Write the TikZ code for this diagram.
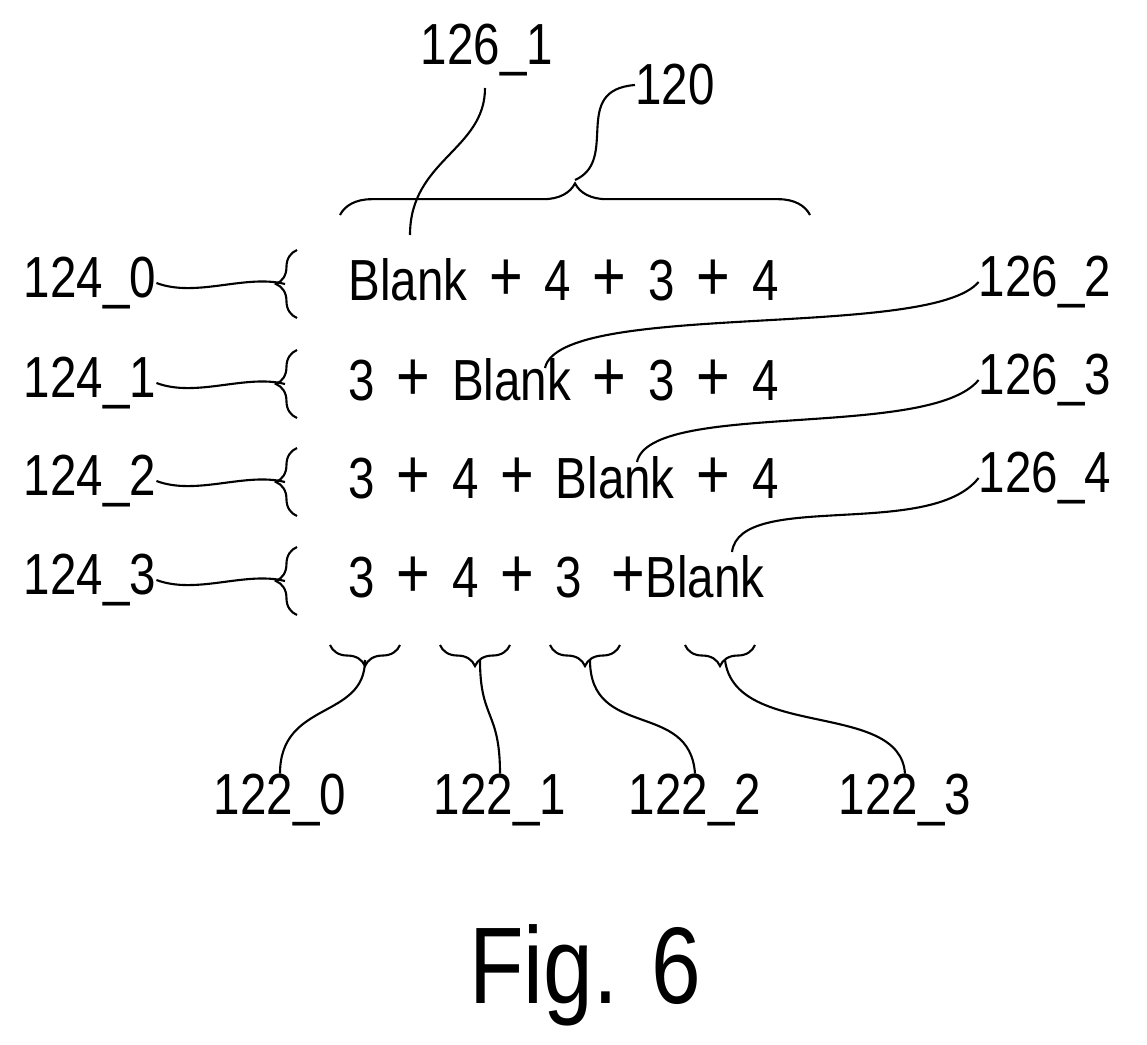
\documentclass[tikz,border=0pt]{standalone}
\usepackage{fontspec}
\setmainfont[FakeStretch=0.82]{Liberation Sans}
\usetikzlibrary{decorations.pathreplacing}
\newcommand\pl{\makebox[44pt]{\fontsize{40}{40}\selectfont +}}
\newcommand\pll{\makebox[36pt][r]{\fontsize{40}{40}\selectfont +}}
\begin{document}
\begin{tikzpicture}[x=0.02cm,y=-0.02cm,
  t/.style={font=\fontsize{33}{33}\selectfont, inner sep=0},
  br/.style={decorate, decoration={brace, amplitude=12}, line width=1.2pt},
  ln/.style={line width=1.2pt}]
\useasboundingbox (0,0) rectangle (1147,1045);
% rows
\foreach \i/\y/\txt in {0/280/{Blank\pl 4\pl 3\pl 4},1/380/{3\pl Blank\pl 3\pl 4},2/478/{3\pl 4\pl Blank\pl 4},3/577/{3\pl 4\pl 3\pll Blank}}{
  \node[t, anchor=west] (r\i) at (348,\y) {\txt};
  \node[t] (l\i) at (90,\y+3) {124\_\i};
  \draw[br] (297,\y+38) -- coordinate[pos=0.5,xshift=-12*0.02cm] (b\i) (297,\y-30);
  \draw[ln] (l\i.east) .. controls +(40,15) and +(-40,-10) .. (b\i);
}
% top brace
\draw[br,decoration={amplitude=18}] (340,215) -- coordinate[pos=0.5] (tm) (810,215);
\coordinate (tt) at (575,180);
\node[t] (n120) at (675,85) {120};
\draw[ln] (tt) .. controls (620,160) and (570,90) .. (n120.west);
\node[t] (n1261) at (487,50) {126\_1};
\coordinate (p1) at (410,235);
\draw[ln] (485,88) .. controls (485,150) and (410,160) .. (p1);
% right labels
\node[t] (n1262) at (1045,282) {126\_2};
\node[t] (n1263) at (1045,380) {126\_3};
\node[t] (n1264) at (1045,478) {126\_4};
\coordinate (p2) at (545,368);
\coordinate (p3) at (637,462);
\coordinate (p4) at (732,552);
\draw[ln] (n1262.west) .. controls (930,340) and (560,300) .. (p2);
\draw[ln] (n1263.west) .. controls (930,440) and (650,400) .. (p3);
\draw[ln] (n1264.west) .. controls (930,540) and (740,490) .. (p4);
% bottom braces
\foreach \a/\b/\k/\lx in {330/400/0/280,440/510/1/500,550/620/2/695,685/755/3/905}{
  \draw[br] (\b,645) -- (\a,645);
  \node[t] (m\k) at (\lx,800) {122\_\k};
}
\draw[ln] (365,660) .. controls (365,720) and (280,700) .. (m0.north);
\draw[ln] (480,660) .. controls (480,720) and (500,710) .. (m1.north);
\draw[ln] (590,660) .. controls (590,740) and (690,700) .. (m2.north);
\draw[ln] (725,660) .. controls (735,740) and (900,700) .. (m3.north);
\node[font=\fontsize{62}{62}\selectfont] (fig) at (585,975) {Fig. 6};
\end{tikzpicture}
\end{document}
